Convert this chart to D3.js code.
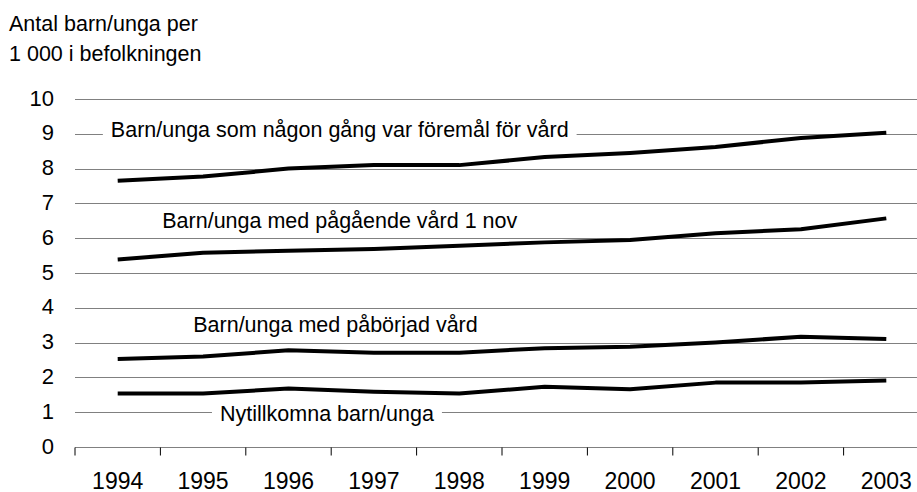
<!DOCTYPE html>
<html>
<head>
<meta charset="utf-8">
<script src="https://cdn.jsdelivr.net/npm/d3@7/dist/d3.min.js"></script>
<style>
  body { margin: 0; background: #fff; }
  text { font-family: Arial, "Liberation Sans", sans-serif; fill: #000; }
</style>
</head>
<body>
<div id="chart"></div>
<script>
// years on the x axis
let years = ["1994", "1995", "1996", "1997", "1998", "1999", "2000", "2001", "2002", "2003"];

// per 1 000 in the population
let foremalVard = [7.65, 7.77, 8.0, 8.1, 8.1, 8.33, 8.45, 8.62, 8.88, 9.03];
let pagaendeVard = [5.39, 5.58, 5.64, 5.69, 5.78, 5.88, 5.95, 6.14, 6.26, 6.57];
let paborjadVard = [2.53, 2.6, 2.78, 2.71, 2.71, 2.84, 2.88, 3.0, 3.17, 3.1];
let nytillkomna = [1.54, 1.54, 1.68, 1.59, 1.54, 1.73, 1.66, 1.85, 1.85, 1.91];

let seriesNames = [
    "Barn/unga som någon gång var föremål för vård",
    "Barn/unga med pågående vård 1 nov",
    "Barn/unga med påbörjad vård",
    "Nytillkomna barn/unga"
];
let yTicks = [0, 1, 2, 3, 4, 5, 6, 7, 8, 9, 10];
let titleLines = ["Antal barn/unga per", "1 000 i befolkningen"];

function mainChart() {
    let w = 917, h = 492;
    let margin = {top: 99, left: 75, bottom: 45};
    let plotH = h - margin.top - margin.bottom;
    let fontSize = "21.5px";

    let svg = d3.select("#chart").append("svg")
        .attr("width", w)
        .attr("height", h);

    let x = d3.scaleBand()
        .domain(years)
        .range([margin.left, margin.left + 85.4 * years.length]);

    let y = d3.scaleLinear()
        .domain([0, 10])
        .range([margin.top + plotH, margin.top]);

    // title, two lines
    svg.selectAll("text.title")
        .data(titleLines)
        .enter().append("text")
        .attr("class", "title")
        .attr("x", 9)
        .attr("y", (d, i) => 31 + i * 30)
        .style("font-size", fontSize)
        .text(d => d);

    // grid lines
    svg.selectAll("line.grid")
        .data(yTicks.filter(d => d > 0))
        .enter().append("line")
        .attr("class", "grid")
        .attr("x1", margin.left)
        .attr("x2", w)
        .attr("y1", d => Math.round(y(d)) + 0.5)
        .attr("y2", d => Math.round(y(d)) + 0.5)
        .style("stroke", "#808080")
        .style("stroke-width", 1);

    // y tick labels
    svg.selectAll("text.ytick")
        .data(yTicks)
        .enter().append("text")
        .attr("class", "ytick")
        .attr("x", 54)
        .attr("y", d => y(d))
        .attr("dy", "0.3em")
        .attr("text-anchor", "end")
        .style("font-size", "22px")
        .text(d => d);

    // x axis
    let xAxis = d3.axisBottom(x).tickSize(8).tickSizeOuter(0).tickFormat("");
    let gx = svg.append("g")
        .attr("transform", "translate(0," + (Math.round(y(0)) + 0.5) + ")")
        .call(xAxis);
    gx.select(".domain").attr("stroke", "#808080").attr("d", "M" + margin.left + ",0H" + w);
    // ticks on band edges instead of centers
    gx.selectAll(".tick line")
        .attr("x1", -x.bandwidth() / 2)
        .attr("x2", -x.bandwidth() / 2)
        .attr("stroke", "#000");

    svg.selectAll("text.xtick")
        .data(years)
        .enter().append("text")
        .attr("class", "xtick")
        .attr("x", d => x(d) + x.bandwidth() / 2)
        .attr("y", 489)
        .attr("text-anchor", "middle")
        .style("font-size", "23px")
        .text(d => d);

    // series lines
    let allSeries = [foremalVard, pagaendeVard, paborjadVard, nytillkomna];
    let line = d3.line()
        .x((d, i) => x(years[i]) + x.bandwidth() / 2)
        .y(d => y(d));

    svg.selectAll("path.series")
        .data(allSeries)
        .enter().append("path")
        .attr("class", "series")
        .attr("d", line)
        .style("fill", "none")
        .style("stroke", "#000")
        .style("stroke-width", 4)
        .style("stroke-linejoin", "round");

    // series labels, placed in data units (year index, value)
    let labelAt = [[2.6, 8.9], [2.6, 6.3], [2.55, 3.3], [2.45, 0.75]];
    let labels = svg.selectAll("g.label")
        .data(seriesNames)
        .enter().append("g")
        .attr("class", "label")
        .attr("transform", (d, i) => "translate(" + (x(years[0]) + x.bandwidth() / 2 + labelAt[i][0] * x.step()) + "," + y(labelAt[i][1]) + ")");

    labels.append("rect")
        .style("fill", "#fff");
    labels.append("text")
        .attr("text-anchor", "middle")
        .style("font-size", fontSize)
        .text(d => d);
    labels.each(function() {
        let g = d3.select(this);
        let bb = g.select("text").node().getBBox();
        g.select("rect")
            .attr("x", bb.x - 8)
            .attr("y", bb.y)
            .attr("width", bb.width + 16)
            .attr("height", bb.height);
    });
}

mainChart();
</script>
</body>
</html>
